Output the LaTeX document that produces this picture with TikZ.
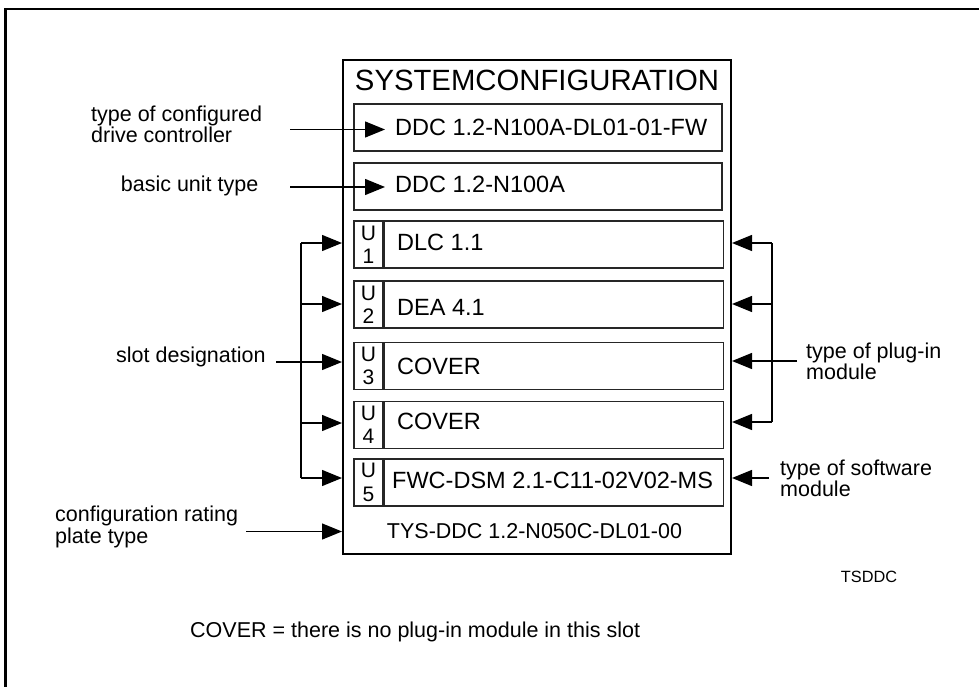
\documentclass[tikz,border=0pt]{standalone}
\usepackage{fontspec}
\setmainfont{Liberation Sans}
\usetikzlibrary{arrows.meta,calc}
\newcommand\pxfont[2]{\fontsize{#1pt}{#2pt}\selectfont}
\tikzset{
  lbl/.style={inner sep=0pt, align=left, font=\pxfont{21.5}{21.3}},
  boxtxt/.style={inner sep=0pt, font=\pxfont{23.5}{24}},
  ibox/.style={draw=black!85, line width=1.2pt, minimum height=47pt, inner sep=0pt},
  mainbox/.style={draw=black, line width=2pt, minimum width=388pt, minimum height=494pt, inner sep=0pt},
  conn/.style={draw=black, line width=1.3pt},
  arr/.style={conn, -{Triangle[length=20pt,width=16pt]}},
  frame/.style={draw=black, line width=2.5pt}
}
\begin{document}
\begin{tikzpicture}[x=1pt,y=-1pt]
\useasboundingbox (0,0) rectangle (979,687);
\draw[frame] (5.5,687) -- (5.5,9) -- (979,9);

% main box
\node[mainbox] (main) at (537,306.75) {};
\node[inner sep=0pt, font=\pxfont{29.3}{30}] (title) at (537,80) {SYSTEMCONFIGURATION};

% top two boxes
\node[ibox, minimum width=368pt] (b1) at (538,127.5) {};
\node[ibox, minimum width=368pt] (b2) at (538,186.5) {};
\node[boxtxt, anchor=west, inner xsep=10pt] (t1) at (385,127) {DDC 1.2-N100A-DL01-01-FW};
\node[boxtxt, anchor=west, inner xsep=10pt] (t2) at (385,184) {DDC 1.2-N100A};

% slot boxes
\foreach \i/\y in {1/244.5,2/304.5,3/366,4/425,5/482.5}{
  \node[ibox, minimum width=29pt, align=center, font=\pxfont{21}{23.3}] (u\i) at (368.5,\y) {U\\\i};
  \node[ibox, minimum width=339pt, anchor=west] (m\i) at (u\i.east) {};
}
\node[boxtxt, anchor=west] (t3) at (397,242.5) {DLC 1.1};
\node[boxtxt, anchor=west] (t4) at (397,307.5) {DEA 4.1};
\node[boxtxt, anchor=west] (t5) at (397,366) {COVER};
\node[boxtxt, anchor=west] (t6) at (397,421.7) {COVER};
\node[boxtxt, anchor=west] (t7) at (392,480.5) {FWC-DSM 2.1-C11-02V02-MS};
\node[inner sep=0pt, font=\pxfont{21.5}{22}] (tys) at (534.5,531) {TYS-DDC 1.2-N050C-DL01-00};

% left labels
\node[lbl, anchor=west] (lcfg) at (91,124.5) {type of configured\\drive controller};
\node[lbl, anchor=west] (lbasic) at (120.7,186) {basic unit type};
\node[lbl, anchor=west] (lslot) at (116,356.5) {slot designation};
\node[lbl, anchor=west] (lrate) at (55,527) {configuration rating\\plate type};

% right labels
\node[lbl, anchor=west] (lplug) at (806,361) {type of plug-in\\module};
\node[lbl, anchor=west] (lsoft) at (780,478) {type of software\\module};
\node[inner sep=0pt, font=\pxfont{16.3}{17}] (ts) at (869,577) {TSDDC};
\node[lbl, anchor=west] (note) at (190,632) {COVER = there is no plug-in module in this slot};

% connector coordinates
\coordinate (a1) at (290,129.5);
\coordinate (a2) at (290,187);
\coordinate (la1) at (301,243);
\coordinate (la2) at (301,304);
\coordinate (la3) at (301,362);
\coordinate (la4) at (301,423);
\coordinate (la5) at (301,478);
\coordinate (ls) at (276,362);
\coordinate (cr) at (246,531.5);
\coordinate (ra1) at (772,243);
\coordinate (ra2) at (772,304);
\coordinate (ra4) at (772,422);
\coordinate (rl) at (797,361);
\coordinate (rs) at (769,478);

% top arrows
\draw[arr] (a1) -- (a1 -| t1.west);
\draw[arr] (a2) -- (a2 -| t2.west);

% left bracket
\draw[conn] (la1) -- (la5);
\draw[arr] (la1) -- (la1 -| main.west);
\draw[arr] (la2) -- (la2 -| main.west);
\draw[arr] (ls) -- (ls -| main.west);
\draw[arr] (la4) -- (la4 -| main.west);
\draw[arr] (la5) -- (la5 -| main.west);
\draw[arr] (cr) -- (cr -| main.west);

% right bracket
\draw[conn] (ra1) -- (ra4);
\draw[arr] (ra1) -- (ra1 -| main.east);
\draw[arr] (ra2) -- (ra2 -| main.east);
\draw[arr] (rl) -- (rl -| main.east);
\draw[arr] (ra4) -- (ra4 -| main.east);
\draw[arr] (rs) -- (rs -| main.east);
\end{tikzpicture}
\end{document}
